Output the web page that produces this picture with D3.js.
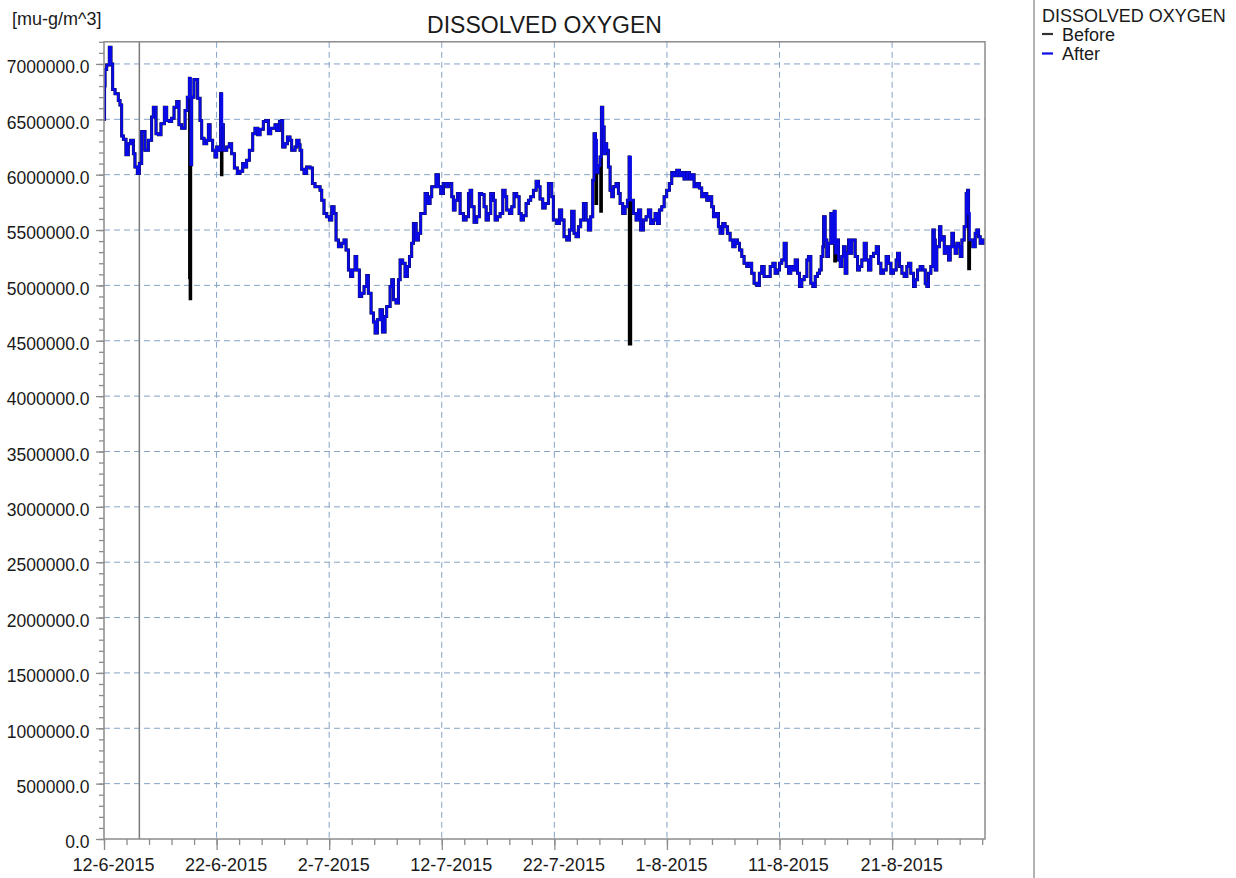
<!DOCTYPE html>
<html>
<head>
<meta charset="utf-8">
<script src="https://cdn.jsdelivr.net/npm/d3@7"></script>
<style>
  body { margin: 0; background: #fff; }
  svg text { font-family: "Liberation Sans", Arial, sans-serif; fill: #1a1a1a; }
</style>
</head>
<body>
<svg id="chart" width="1236" height="878"></svg>
<script>
// series start and axis labels
const startDate = new Date(2015, 5, 12);
const endDay = 78.25;
const markerDay = 3.14;
const xTickLabels = ["12-6-2015", "22-6-2015", "2-7-2015", "12-7-2015", "22-7-2015", "1-8-2015", "11-8-2015", "21-8-2015"];
const yTicks = [0, 500000, 1000000, 1500000, 2000000, 2500000, 3000000, 3500000,
    4000000, 4500000, 5000000, 5500000, 6000000, 6500000, 7000000];
const yMax = 7200000;
const seriesNames = ["Before", "After"];

// After: [days since 12-6-2015, value]
const afterData = [
    [0.00, 6500000], [0.05, 6800000], [0.09, 6950000], [0.24, 6990000], [0.47, 7150000], [0.62, 7000000],
    [0.77, 6770000], [0.98, 6730000], [1.27, 6670000], [1.42, 6630000], [1.57, 6350000], [1.72, 6320000],
    [1.95, 6180000], [2.16, 6280000], [2.37, 6310000], [2.61, 6190000], [2.75, 6070000], [2.96, 6010000],
    [3.14, 6100000], [3.35, 6390000], [3.64, 6220000], [3.94, 6310000], [4.23, 6520000], [4.38, 6610000],
    [4.62, 6370000], [4.83, 6360000], [5.06, 6460000], [5.36, 6610000], [5.57, 6490000], [5.80, 6480000],
    [6.01, 6510000], [6.22, 6610000], [6.46, 6660000], [6.66, 6450000], [6.90, 6420000], [7.20, 6580000],
    [7.40, 6700000], [7.58, 6870000], [7.70, 6090000], [7.79, 6700000], [7.99, 6860000], [8.17, 6860000],
    [8.32, 6690000], [8.53, 6490000], [8.68, 6330000], [8.88, 6280000], [9.12, 6310000], [9.27, 6450000],
    [9.42, 6310000], [9.65, 6220000], [9.86, 6160000], [10.01, 6250000], [10.22, 6220000], [10.36, 6730000],
    [10.48, 6450000], [10.60, 6220000], [10.90, 6250000], [11.13, 6280000], [11.34, 6190000], [11.58, 6060000],
    [11.84, 6010000], [12.08, 6030000], [12.32, 6100000], [12.53, 6070000], [12.67, 6130000], [12.91, 6220000],
    [13.21, 6370000], [13.41, 6420000], [13.65, 6360000], [13.86, 6410000], [14.15, 6480000], [14.36, 6490000],
    [14.60, 6370000], [14.81, 6420000], [14.98, 6420000], [15.19, 6450000], [15.34, 6400000], [15.58, 6480000],
    [15.78, 6490000], [15.87, 6250000], [16.08, 6280000], [16.29, 6340000], [16.52, 6310000], [16.67, 6220000],
    [16.97, 6250000], [17.12, 6310000], [17.32, 6270000], [17.41, 6220000], [17.56, 6050000], [17.77, 6010000],
    [18.00, 6070000], [18.30, 6060000], [18.51, 5920000], [18.74, 5890000], [19.04, 5890000], [19.19, 5860000],
    [19.34, 5770000], [19.54, 5650000], [19.78, 5620000], [20.02, 5590000], [20.23, 5710000], [20.43, 5650000],
    [20.61, 5410000], [20.82, 5350000], [21.11, 5380000], [21.32, 5410000], [21.50, 5320000], [21.71, 5140000],
    [21.91, 5080000], [22.09, 5140000], [22.30, 5260000], [22.45, 5140000], [22.68, 4900000], [22.89, 4930000],
    [23.10, 4990000], [23.34, 5090000], [23.48, 4930000], [23.72, 4750000], [23.93, 4670000], [24.08, 4570000],
    [24.28, 4690000], [24.52, 4780000], [24.73, 4580000], [24.96, 4720000], [25.11, 4810000], [25.41, 4990000],
    [25.56, 5050000], [25.71, 4870000], [25.94, 4840000], [26.15, 5050000], [26.30, 5230000], [26.53, 5200000],
    [26.74, 5080000], [26.95, 5170000], [27.13, 5260000], [27.33, 5380000], [27.48, 5560000], [27.72, 5410000],
    [27.93, 5470000], [28.13, 5650000], [28.37, 5650000], [28.52, 5830000], [28.73, 5740000], [28.96, 5800000],
    [29.11, 5890000], [29.32, 5890000], [29.49, 6000000], [29.70, 5890000], [29.91, 5830000], [30.15, 5920000],
    [30.44, 5890000], [30.59, 5920000], [30.89, 5800000], [31.03, 5680000], [31.18, 5770000], [31.39, 5830000],
    [31.63, 5650000], [31.92, 5590000], [32.16, 5620000], [32.37, 5830000], [32.52, 5860000], [32.66, 5710000],
    [32.87, 5570000], [33.11, 5620000], [33.34, 5830000], [33.55, 5820000], [33.76, 5710000], [33.94, 5590000],
    [34.14, 5650000], [34.35, 5830000], [34.59, 5770000], [34.74, 5590000], [34.94, 5620000], [35.18, 5650000],
    [35.42, 5860000], [35.62, 5800000], [35.77, 5680000], [36.01, 5650000], [36.22, 5710000], [36.42, 5830000],
    [36.66, 5800000], [36.87, 5650000], [37.05, 5590000], [37.25, 5630000], [37.49, 5740000], [37.70, 5770000],
    [37.90, 5800000], [38.14, 5860000], [38.38, 5940000], [38.59, 5890000], [38.73, 5780000], [38.97, 5700000],
    [39.18, 5740000], [39.47, 5920000], [39.77, 5800000], [39.91, 5590000], [40.21, 5560000], [40.45, 5680000],
    [40.65, 5590000], [40.86, 5440000], [41.10, 5410000], [41.34, 5500000], [41.54, 5670000], [41.75, 5470000],
    [41.93, 5440000], [42.14, 5530000], [42.34, 5590000], [42.58, 5740000], [42.82, 5590000], [43.02, 5500000],
    [43.23, 5620000], [43.41, 5950000], [43.53, 6370000], [43.65, 6310000], [43.76, 6020000], [43.91, 6080000],
    [44.06, 6160000], [44.18, 6610000], [44.30, 6430000], [44.42, 6190000], [44.53, 6280000], [44.65, 6220000],
    [44.80, 6070000], [44.95, 5860000], [45.10, 5800000], [45.24, 5890000], [45.48, 5920000], [45.69, 5830000],
    [45.84, 5740000], [46.07, 5650000], [46.28, 5710000], [46.49, 5770000], [46.64, 6160000], [46.78, 5770000],
    [47.02, 5650000], [47.26, 5590000], [47.47, 5680000], [47.67, 5500000], [47.91, 5590000], [48.15, 5620000],
    [48.35, 5680000], [48.56, 5560000], [48.80, 5590000], [48.95, 5650000], [49.15, 5560000], [49.33, 5680000],
    [49.54, 5710000], [49.75, 5800000], [49.98, 5860000], [50.22, 5920000], [50.43, 6020000], [50.63, 5990000],
    [50.87, 6040000], [51.11, 5990000], [51.32, 6020000], [51.52, 5960000], [51.76, 6020000], [52.00, 5960000],
    [52.20, 6000000], [52.41, 5890000], [52.65, 5920000], [52.88, 5880000], [53.09, 5800000], [53.30, 5830000],
    [53.54, 5770000], [53.77, 5800000], [53.98, 5710000], [54.13, 5620000], [54.36, 5650000], [54.57, 5530000],
    [54.72, 5470000], [54.96, 5560000], [55.16, 5530000], [55.37, 5470000], [55.61, 5410000], [55.85, 5350000],
    [56.05, 5410000], [56.26, 5380000], [56.44, 5320000], [56.65, 5260000], [56.85, 5200000], [57.09, 5170000],
    [57.33, 5200000], [57.53, 5110000], [57.74, 5020000], [57.98, 5000000], [58.21, 5110000], [58.42, 5170000],
    [58.63, 5080000], [58.87, 5080000], [59.17, 5170000], [59.41, 5200000], [59.61, 5110000], [59.82, 5140000],
    [60.00, 5200000], [60.20, 5230000], [60.41, 5380000], [60.59, 5170000], [60.80, 5110000], [61.00, 5170000],
    [61.18, 5140000], [61.39, 5230000], [61.60, 5110000], [61.77, 4990000], [61.98, 5050000], [62.19, 5080000],
    [62.43, 5230000], [62.57, 5260000], [62.78, 5020000], [62.96, 4990000], [63.17, 5080000], [63.37, 5110000],
    [63.55, 5140000], [63.70, 5260000], [63.85, 5350000], [63.91, 5620000], [64.05, 5410000], [64.20, 5260000],
    [64.35, 5380000], [64.56, 5650000], [64.74, 5380000], [64.85, 5670000], [64.97, 5290000], [65.09, 5410000],
    [65.24, 5230000], [65.39, 5170000], [65.53, 5260000], [65.68, 5350000], [65.83, 5110000], [65.98, 5290000],
    [66.13, 5410000], [66.28, 5290000], [66.42, 5410000], [66.57, 5410000], [66.72, 5260000], [66.93, 5140000],
    [67.10, 5170000], [67.31, 5230000], [67.52, 5380000], [67.70, 5230000], [67.90, 5140000], [68.11, 5260000],
    [68.35, 5290000], [68.59, 5350000], [68.79, 5200000], [69.00, 5110000], [69.24, 5140000], [69.47, 5260000],
    [69.68, 5200000], [69.89, 5110000], [70.12, 5140000], [70.36, 5230000], [70.48, 5290000], [70.66, 5170000],
    [70.87, 5110000], [71.07, 5080000], [71.31, 5170000], [71.46, 5200000], [71.66, 5110000], [71.90, 4990000],
    [72.05, 5050000], [72.26, 5140000], [72.49, 5170000], [72.73, 5140000], [72.94, 5020000], [73.09, 4990000],
    [73.23, 5110000], [73.44, 5170000], [73.62, 5500000], [73.74, 5410000], [73.83, 5140000], [73.97, 5350000],
    [74.21, 5530000], [74.33, 5410000], [74.51, 5440000], [74.63, 5290000], [74.80, 5350000], [75.01, 5230000],
    [75.16, 5350000], [75.31, 5470000], [75.45, 5350000], [75.60, 5290000], [75.75, 5380000], [75.90, 5350000],
    [76.05, 5260000], [76.20, 5410000], [76.40, 5530000], [76.58, 5830000], [76.70, 5860000], [76.79, 5650000],
    [76.88, 5410000], [77.00, 5410000], [77.17, 5350000], [77.38, 5470000], [77.53, 5500000], [77.68, 5440000],
    [77.82, 5380000], [77.97, 5410000], [78.12, 5380000], [78.25, 5380000]
];

// Before: same as After except at these moments
const beforeDiff = [
    [7.60, 5070000], [7.65, 4880000], [10.43, 6000000], [43.70, 5740000],
    [44.12, 5670000], [46.66, 4470000], [64.90, 5220000], [76.80, 5150000]
];

const margin = {left: 104, right: 985, top: 41.8, bottom: 839};
const svg = d3.select("#chart");

const toDate = (d) => new Date(startDate.getTime() + d * 864e5);
const endDate = toDate(endDay);

const x = d3.scaleTime()
    .domain([startDate, endDate])
    .range([margin.left, margin.right]);
const y = d3.scaleLinear()
    .domain([0, yMax])
    .range([margin.bottom, margin.top]);

const parseLabel = d3.timeParse("%d-%m-%Y");
const majorTicks = xTickLabels.map(parseLabel);
const minorTicks = d3.timeDay.range(startDate, endDate, 2);

svg.append("rect").attr("width", 1236).attr("height", 878).attr("fill", "#fff");

// grid lines
const grid = svg.append("g");
grid.selectAll(".hgrid")
    .data(yTicks.filter(d => d > 0))
    .join("line")
    .attr("x1", margin.left).attr("x2", margin.right)
    .attr("y1", d => y(d)).attr("y2", d => y(d))
    .attr("stroke", "#86a3c6")
    .attr("stroke-width", 1)
    .attr("stroke-dasharray", "6,4");
grid.selectAll(".vgrid")
    .data(majorTicks.slice(1))
    .join("line")
    .attr("x1", d => x(d)).attr("x2", d => x(d))
    .attr("y1", margin.top).attr("y2", margin.bottom)
    .attr("stroke", "#86a3c6")
    .attr("stroke-width", 1)
    .attr("stroke-dasharray", "6,4");

// gray marker line
svg.append("line")
    .attr("x1", x(toDate(markerDay))).attr("x2", x(toDate(markerDay)))
    .attr("y1", margin.top).attr("y2", margin.bottom)
    .attr("stroke", "#7a7a7a")
    .attr("stroke-width", 1.5);

// lines
svg.append("clipPath").attr("id", "clip")
    .append("rect")
    .attr("x", margin.left).attr("y", margin.top)
    .attr("width", margin.right - margin.left)
    .attr("height", margin.bottom - margin.top);

const beforeData = afterData.concat(beforeDiff).sort((a, b) => a[0] - b[0]);

const line = d3.line()
    .x(d => x(toDate(d[0])))
    .y(d => y(d[1]))
    .curve(d3.curveStepAfter);

svg.append("path")
    .datum(beforeData)
    .attr("clip-path", "url(#clip)")
    .attr("fill", "none")
    .attr("stroke", "#000")
    .attr("stroke-width", 3)
    .attr("d", line);
svg.append("path")
    .datum(afterData)
    .attr("clip-path", "url(#clip)")
    .attr("fill", "none")
    .attr("stroke", "#0a0ae6")
    .attr("stroke-width", 2.5)
    .attr("d", line);

// frame
svg.append("rect")
    .attr("x", margin.left).attr("y", margin.top)
    .attr("width", margin.right - margin.left)
    .attr("height", margin.bottom - margin.top)
    .attr("fill", "none")
    .attr("stroke", "#8c8c8c")
    .attr("stroke-width", 1.5);

// y axis, minor then major
const yMinor = svg.append("g")
    .attr("transform", `translate(${margin.left},0)`)
    .call(d3.axisLeft(y).tickValues(d3.range(0, yMax + 1, 100000)).tickSize(5).tickFormat(""));
const yMajor = svg.append("g")
    .attr("transform", `translate(${margin.left},0)`)
    .call(d3.axisLeft(y).tickValues(yTicks).tickSize(8).tickFormat(d3.format(".1f")));
yMajor.selectAll("text")
    .attr("x", -14.5)
    .attr("dy", "0.5em")
    .attr("font-size", 17.5);

// x axis, minor then major
const xMinor = svg.append("g")
    .attr("transform", `translate(0,${margin.bottom})`)
    .call(d3.axisBottom(x).tickValues(minorTicks).tickSize(6).tickFormat(""));
const xMajor = svg.append("g")
    .attr("transform", `translate(0,${margin.bottom})`)
    .call(d3.axisBottom(x).tickValues(majorTicks).tickSize(11).tickFormat((d, i) => xTickLabels[i]));
xMajor.selectAll("text")
    .attr("text-anchor", "start")
    .attr("x", -32)
    .attr("y", 32)
    .attr("dy", null)
    .attr("font-size", 18);

[yMinor, yMajor, xMinor, xMajor].forEach(g => {
    g.select(".domain").remove();
    g.selectAll("line").attr("stroke", "#8c8c8c").attr("stroke-width", 1.3);
    g.attr("font-family", null);
});

// titles
svg.append("text")
    .attr("x", 12)
    .attr("y", 24.5)
    .attr("font-size", 18)
    .text("[mu-g/m^3]");
svg.append("text")
    .attr("x", (margin.left + margin.right) / 2)
    .attr("y", 32.5)
    .attr("text-anchor", "middle")
    .attr("font-size", 23)
    .text("DISSOLVED OXYGEN");

// legend
svg.append("line")
    .attr("x1", 1034).attr("x2", 1034)
    .attr("y1", 0).attr("y2", 878)
    .attr("stroke", "#9a9a9a")
    .attr("stroke-width", 1.5);
svg.append("text")
    .attr("x", 1042).attr("y", 22)
    .attr("font-size", 18)
    .text("DISSOLVED OXYGEN");
const legendColors = ["#333", "#0a0ae6"];
const legend = svg.selectAll(".legend-item")
    .data(seriesNames)
    .join("g")
    .attr("transform", (d, i) => `translate(1042, ${34 + i * 19.5})`);
legend.append("line")
    .attr("x1", 0).attr("x2", 11)
    .attr("stroke", (d, i) => legendColors[i])
    .attr("stroke-width", 2.2);
legend.append("text")
    .attr("x", 20).attr("y", 6.5)
    .attr("font-size", 18)
    .text(d => d);
</script>
</body>
</html>
